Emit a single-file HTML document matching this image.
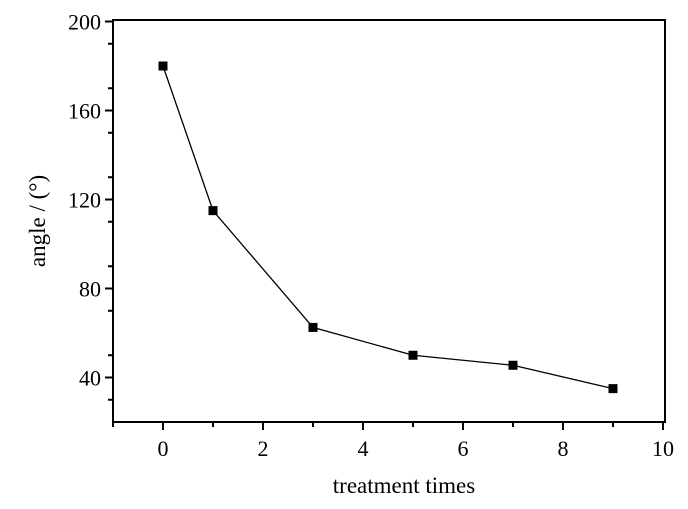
<!DOCTYPE html>
<html><head><meta charset="utf-8"><style>
body{margin:0;background:#fff}
text{font-family:"Liberation Serif",serif;fill:#000}
</style></head><body>
<svg width="688" height="504" xmlns="http://www.w3.org/2000/svg">
<g id="axes"></g><g id="series"></g>
<text x="404" y="493" font-size="23" text-anchor="middle">treatment times</text>
<text transform="translate(45,221) rotate(-90)" font-size="23" text-anchor="middle">angle / (°)</text>
</svg>
<script>
const xValues=[0,1,3,5,7,9];
const angleValues=[180,115,62.5,50,45.5,35];
const xTicks=[0,2,4,6,8,10];
const yTicks=[40,80,120,160,200];
const NS="http://www.w3.org/2000/svg";
const L=113,R=665,T=20,B=422;
const sx=v=>L+(v+1)*50;
const sy=v=>B-(v-20)*2.225;
function mk(tag,attrs,parent){const e=document.createElementNS(NS,tag);for(const k in attrs)e.setAttribute(k,attrs[k]);parent.appendChild(e);return e;}
const ax=document.getElementById('axes'),se=document.getElementById('series');
const frame=mk('rect',{x:L,y:T,width:R-L,height:B-T,fill:'none',stroke:'#000','stroke-width':2},ax);


for(let v=-1;v<=10;v++){
  const major=xTicks.includes(v);
  const t=mk('line',{x1:sx(v),x2:sx(v),y1:B,y2:B+(major?8:5),stroke:'#000','stroke-width':2},ax);
  
  
}
xTicks.forEach(v=>{const t=mk('text',{x:sx(v),y:B+34,'font-size':22,'text-anchor':'middle'},ax);t.textContent=v;
  
  });
for(let v=30;v<=200;v+=10){
  if(v%20) {
    const t=mk('line',{x1:L-5,x2:L,y1:sy(v),y2:sy(v),stroke:'#000','stroke-width':2},ax);
    
    
  }
}
yTicks.forEach(v=>{
  const t=mk('line',{x1:L-8,x2:L,y1:sy(v),y2:sy(v),stroke:'#000','stroke-width':2},ax);
  
  
  const l=mk('text',{x:L-12,y:sy(v)+8,'font-size':22,'text-anchor':'end'},ax);l.textContent=v;
  
  
});
const pts=xValues.map((x,i)=>sx(x)+','+sy(angleValues[i])).join(' ');
const line=mk('polyline',{points:pts,fill:'none',stroke:'#000','stroke-width':1.3},se);


xValues.forEach((x,i)=>{
  const m=mk('rect',{x:sx(x)-4.5,y:sy(angleValues[i])-4.5,width:9,height:9,fill:'#000'},se);
  
  
});
</script>
</body></html>
